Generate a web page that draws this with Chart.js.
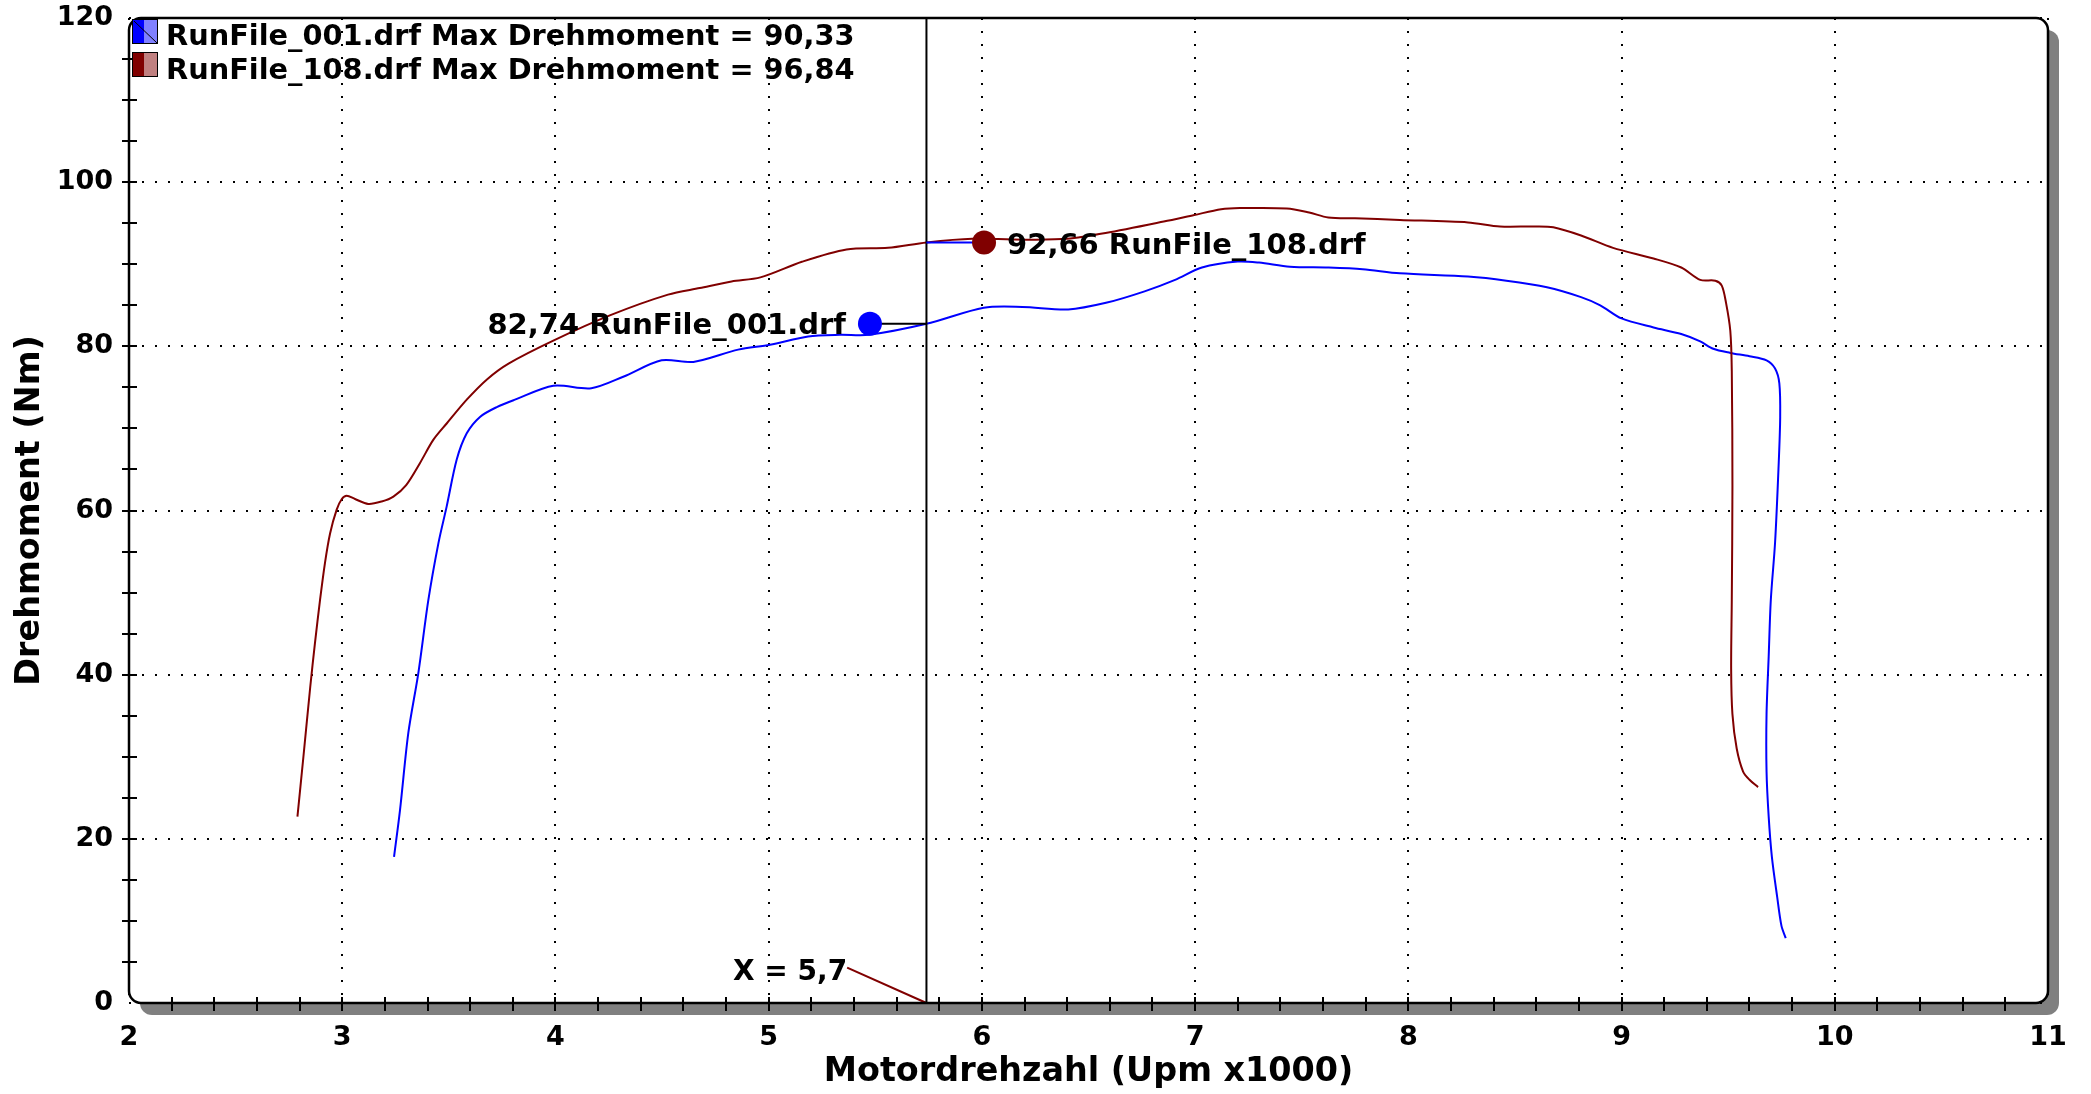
<!DOCTYPE html>
<html>
<head>
<meta charset="utf-8">
<script src="https://cdn.jsdelivr.net/npm/chart.js@4.4.1/dist/chart.umd.min.js"></script>
<style>
html,body{margin:0;padding:0;background:#fff;}
#wrap{width:2091px;height:1094px;position:relative;}
</style>
</head>
<body>
<div id="wrap"><canvas id="c"></canvas></div>
<script>
// ---- data ----
const rpm001 = [3.243,3.271,3.31,3.357,3.404,3.451,3.49,3.537,3.584,3.646,3.725,3.81,3.99,4.168,4.318,4.498,4.647,4.857,5.006,5.185,5.335,5.47,5.74,6.009,6.19,6.405,6.582,6.763,6.906,7.032,7.2,7.30,7.445,7.624,7.786,7.96,8.28,8.46,8.65,8.81,8.90,9.00,9.15,9.28,9.369,9.43,9.51,9.6,9.68,9.72,9.74,9.744,9.736,9.72,9.70,9.69,9.68,9.68,9.69,9.705,9.73,9.75,9.77];
const tq001  = [17.8,23.5,32.9,40.2,49.1,56.0,60.5,66.2,69.4,71.4,72.6,73.5,75.2,74.9,76.3,78.3,78.1,79.6,80.2,81.2,81.4,81.4,82.74,84.7,84.8,84.5,85.3,86.7,88.1,89.6,90.33,90.2,89.7,89.6,89.4,88.9,88.5,88.0,87.2,86.0,85.0,83.4,82.3,81.5,80.6,79.7,79.2,78.8,78.3,77.3,75.5,71.4,65.1,56.1,49.1,42.2,35.2,28.2,22.7,17.8,12.9,9.4,7.9];
const rpm108 = [2.79,2.818,2.85,2.872,2.896,2.919,2.943,2.974,2.998,3.021,3.06,3.122,3.185,3.24,3.30,3.365,3.427,3.49,3.584,3.68,3.78,3.99,4.258,4.528,4.677,4.826,4.961,5.156,5.365,5.56,5.74,5.955,6.224,6.40,6.58,6.853,6.996,7.122,7.21,7.43,7.535,7.624,7.75,7.96,8.28,8.43,8.59,8.68,8.81,8.96,9.15,9.28,9.369,9.44,9.47,9.49,9.51,9.517,9.52,9.517,9.514,9.52,9.54,9.57,9.6,9.64];
const tq108  = [22.7,30,38.5,43.8,49.1,53.6,57.2,60.1,61.4,61.8,61.4,60.8,61.1,61.7,63.1,65.8,68.6,70.6,73.5,76.0,77.9,80.7,83.8,86.3,87.1,87.9,88.4,90.3,91.8,92.0,92.66,93.1,93.0,93.1,93.8,95.2,96.0,96.7,96.84,96.8,96.3,95.7,95.6,95.4,95.1,94.6,94.6,94.5,93.5,92.0,90.7,89.6,88.1,88.0,87.4,85.3,81.9,77,63,49.1,40.7,35.2,31,28.2,27.2,26.3];
const seriesNames = ['RunFile_001.drf','RunFile_108.drf'];
const maxTorque = ['90,33','96,84'];
const cursorX = 5.74;
const cursorLabel = 'X = 5,7';
const cursorValues = [82.74, 92.66];
const cursorValueText = ['82,74','92,66'];
const markerX = [5.475, 6.01];
const leaderStart = [5.368, 4.3];
const xTicks = [2,3,4,5,6,7,8,9,10,11];
const yTicks = [0,20,40,60,80,100,120];

const BLUE = '#0000ff', RED = '#800000';
const FONT = "'DejaVu Sans', Verdana, sans-serif";
const pts = (xs, ys) => xs.map((x, i) => ({x, y: ys[i]}));

const framePlugin = {
  id: 'frame',
  beforeDraw(chart) {
    const {ctx, chartArea: a} = chart;
    ctx.save();
    ctx.fillStyle = '#fff';
    ctx.fillRect(0, 0, chart.width, chart.height);
    ctx.fillStyle = '#808080';
    ctx.beginPath();
    ctx.roundRect(a.left + 11, a.top + 12, a.right - a.left, a.bottom - a.top, 12);
    ctx.fill();
    ctx.fillStyle = '#fff';
    ctx.beginPath();
    ctx.roundRect(a.left, a.top, a.right - a.left, a.bottom - a.top, 12);
    ctx.fill();
    ctx.restore();
  },
  afterDraw(chart) {
    const {ctx, chartArea: a, scales: {x, y}} = chart;
    ctx.save();
    // frame
    ctx.strokeStyle = '#000';
    ctx.lineWidth = 2.5;
    ctx.beginPath();
    ctx.roundRect(a.left, a.top, a.right - a.left, a.bottom - a.top, 12);
    ctx.stroke();
    // minor ticks
    ctx.lineWidth = 2;
    ctx.beginPath();
    for (let i = 1; i < 45; i++) {
      const px = Math.round(x.getPixelForValue(2 + i * 0.2));
      ctx.moveTo(px, a.bottom - 6); ctx.lineTo(px, a.bottom + 8);
    }
    for (let i = 1; i < 24; i++) {
      const py = Math.round(y.getPixelForValue(i * 5));
      ctx.moveTo(a.left - 7, py); ctx.lineTo(a.left + 8, py);
    }
    ctx.stroke();
    // legend
    const rows = [
      {solid: BLUE, light: '#8080ff', diag: true},
      {solid: RED, light: '#c08080', diag: false}
    ];
    ctx.font = 'bold 28.8px ' + FONT;
    ctx.textBaseline = 'alphabetic';
    ctx.textAlign = 'left';
    rows.forEach((r, i) => {
      const bx = a.left + 3, by = a.top + 1 + i * 33, bw = 25, bh = 24;
      ctx.fillStyle = r.solid; ctx.fillRect(bx, by, bw / 2, bh);
      ctx.fillStyle = r.light; ctx.fillRect(bx + bw / 2, by, bw / 2, bh);
      ctx.strokeStyle = '#000'; ctx.lineWidth = 1;
      ctx.strokeRect(bx + 0.5, by + 0.5, bw, bh);
      if (r.diag) { ctx.beginPath(); ctx.moveTo(bx + 2, by + 2); ctx.lineTo(bx + bw, by + bh); ctx.stroke(); }
      ctx.fillStyle = '#000';
      ctx.fillText(seriesNames[i] + ' Max Drehmoment = ' + maxTorque[i], a.left + 37, a.top + 27 + i * 34);
    });
    // value labels
    ctx.font = 'bold 29px ' + FONT;
    const p0x = x.getPixelForValue(markerX[0]), p0y = y.getPixelForValue(cursorValues[0]);
    ctx.textAlign = 'right';
    ctx.fillText(cursorValueText[0] + ' ' + seriesNames[0], p0x - 24, p0y + 10.5);
    const p1x = x.getPixelForValue(markerX[1]), p1y = y.getPixelForValue(cursorValues[1]);
    ctx.textAlign = 'left';
    ctx.fillText(cursorValueText[1] + ' ' + seriesNames[1], p1x + 23, p1y + 12);
    ctx.font = 'bold 28px ' + FONT;
    ctx.textAlign = 'right';
    ctx.fillText(cursorLabel, x.getPixelForValue(leaderStart[0]), y.getPixelForValue(leaderStart[1]) + 12);
    ctx.restore();
  }
};

new Chart(document.getElementById('c'), {
  type: 'scatter',
  data: {
    datasets: [
      {label: 'marker001', data: [{x: markerX[0], y: cursorValues[0]}], pointRadius: 12, pointBackgroundColor: BLUE, pointBorderColor: BLUE, pointBorderWidth: 0, showLine: false, order: 0},
      {label: 'marker108', data: [{x: markerX[1], y: cursorValues[1]}], pointRadius: 12, pointBackgroundColor: RED, pointBorderColor: RED, pointBorderWidth: 0, showLine: false, order: 0},
      {label: 'conn001', data: [{x: markerX[0], y: cursorValues[0]}, {x: cursorX, y: cursorValues[0]}], showLine: true, borderColor: '#000', borderWidth: 2, pointRadius: 0, order: 1},
      {label: 'conn108', data: [{x: cursorX, y: cursorValues[1]}, {x: markerX[1], y: cursorValues[1]}], showLine: true, borderColor: BLUE, borderWidth: 2, pointRadius: 0, order: 1},
      {label: 'cursor', data: [{x: cursorX, y: 0}, {x: cursorX, y: 120}], showLine: true, borderColor: '#000', borderWidth: 2, pointRadius: 0, order: 2},
      {label: 'leader', data: [{x: leaderStart[0], y: leaderStart[1]}, {x: cursorX, y: 0}], showLine: true, borderColor: RED, borderWidth: 2, pointRadius: 0, order: 2, clip: false},
      {label: seriesNames[1], data: pts(rpm108, tq108), showLine: true, borderColor: RED, borderWidth: 2, pointRadius: 0, tension: 0.3, order: 3},
      {label: seriesNames[0], data: pts(rpm001, tq001), showLine: true, borderColor: BLUE, borderWidth: 2, pointRadius: 0, tension: 0.3, order: 4}
    ]
  },
  options: {
    responsive: true,
    maintainAspectRatio: false,
    animation: false,
    devicePixelRatio: 1,
    layout: {padding: {top: 18, right: 43, left: 0, bottom: 0}},
    plugins: {legend: {display: false}, tooltip: {enabled: false}},
    scales: {
      x: {
        type: 'linear', min: 2, max: 11,
        afterBuildTicks: s => { s.ticks = xTicks.map(v => ({value: v})); },
        ticks: {color: '#000', font: {family: FONT, size: 27, weight: 'bold'}, padding: 19, maxRotation: 0, autoSkip: false},
        grid: {color: '#000', lineWidth: 2, drawTicks: false},
        border: {display: false, dash: [2, 11]},
        title: {display: true, text: 'Motordrehzahl (Upm x1000)', color: '#000', font: {family: FONT, size: 33.4, weight: 'bold'}, padding: {top: 0, bottom: 2}},
        afterFit: s => { s.height = 91; s.paddingLeft = 0; s.paddingRight = 0; s.paddingTop = 0; s.paddingBottom = 0; }
      },
      y: {
        type: 'linear', min: 0, max: 120,
        afterBuildTicks: s => { s.ticks = yTicks.map(v => ({value: v})); },
        ticks: {color: '#000', font: {family: FONT, size: 27, weight: 'bold'}, padding: 16, autoSkip: false},
        grid: {color: '#000', lineWidth: 2, drawTicks: false},
        border: {display: false, dash: [2, 11]},
        title: {display: true, text: 'Drehmoment (Nm)', color: '#000', font: {family: FONT, size: 33.4, weight: 'bold'}, padding: {top: 10, bottom: 0}},
        afterFit: s => { s.width = 129; s.paddingLeft = 0; s.paddingRight = 0; s.paddingTop = 0; s.paddingBottom = 0; }
      }
    }
  },
  plugins: [framePlugin]
});
</script>
</body>
</html>
